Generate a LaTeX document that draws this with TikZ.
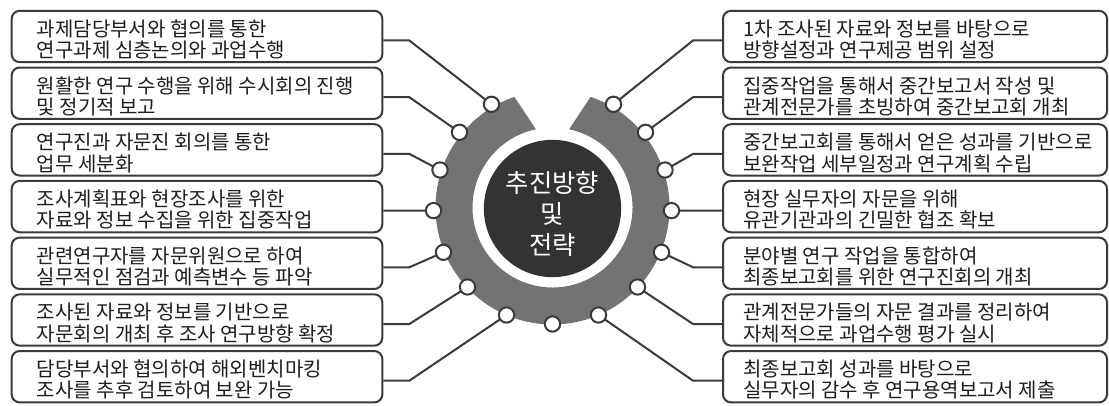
\documentclass[tikz,border=0pt]{standalone}
\usepackage{fontspec}
\setmainfont{Noto Sans CJK KR}
\usetikzlibrary{calc}
\definecolor{ringgray}{HTML}{737373}
\definecolor{darkc}{HTML}{333333}
\definecolor{linec}{HTML}{3A3A3A}
\definecolor{txt}{HTML}{1E1E1E}
\begin{document}
\begin{tikzpicture}[x=0.75pt,y=-0.75pt,
  lbox/.style={draw=linec, line width=1.5pt, rounded corners=6pt, minimum width=278pt, minimum height=38.5pt, inner sep=0pt},
  rbox/.style={lbox, minimum width=288pt},
  btext/.style={anchor=west, align=left, font=\fontsize{15}{16}\selectfont, text=txt, inner sep=0pt},
  conn/.style={draw=linec, line width=1.5pt},
  dot/.style={circle, draw=linec, line width=1.5pt, fill=white, minimum size=11.5pt, inner sep=0pt},
  ctext/.style={align=center, font=\fontsize{19}{23.5}\selectfont, text=white, inner sep=0pt}]
\useasboundingbox (0,0) rectangle (1109,406);
\clip (0,0) rectangle (1109,406);
\fill[white] (0,0) rectangle (1109,406);

% centre
\coordinate (C) at (552.5,207.5);
\fill[ringgray] ($(C)+(-71:117)$) arc[start angle=-71, end angle=251, radius=117]
  -- ($(C)+(258:80)$) arc[start angle=258, end angle=-78, radius=80] -- cycle;
\fill[white] (552.5,208.5) circle[radius=77];
\node[circle, fill=darkc, minimum size=103pt, inner sep=0pt] (core) at (552.5,208.5) {};
\node[ctext] (title) at (552.5,214) {추진방향\\및\\전략};

% boxes
\foreach \i/\a/\b in {
 1/과제담당부서와 협의를 통한/연구과제 심층논의와 과업수행,
 2/원활한 연구 수행을 위해 수시회의 진행/및 정기적 보고,
 3/연구진과 자문진 회의를 통한/업무 세분화,
 4/조사계획표와 현장조사를 위한/자료와 정보 수집을 위한 집중작업,
 5/관련연구자를 자문위원으로 하여/실무적인 점검과 예측변수 등 파악,
 6/조사된 자료와 정보를 기반으로/자문회의 개최 후 조사 연구방향 확정,
 7/담당부서와 협의하여 해외벤치마킹/조사를 추후 검토하여 보완 가능}{
  \node[lbox] (L\i) at (197, {36.5+56.7*(\i-1)}) {};
  \node[btext] (LT\i) at ($(L\i.west)+(26,3)$) {\a\\\b};
}
\foreach \i/\a/\b in {
 1/1차 조사된 자료와 정보를 바탕으로/방향설정과 연구제공 범위 설정,
 2/집중작업을 통해서 중간보고서 작성 및/관계전문가를 초빙하여 중간보고회 개최,
 3/중간보고회를 통해서 얻은 성과를 기반으로/보완작업 세부일정과 연구계획 수립,
 4/현장 실무자의 자문을 위해/유관기관과의 긴밀한 협조 확보,
 5/분야별 연구 작업을 통합하여/최종보고회를 위한 연구진회의 개최,
 6/관계전문가들의 자문 결과를 정리하여/자체적으로 과업수행 평가 실시,
 7/최종보고회 성과를 바탕으로/실무자의 감수 후 연구용역보고서 제출}{
  \node[rbox] (R\i) at (915, {36.5+56.7*(\i-1)}) {};
  \node[btext] (RT\i) at ($(R\i.west)+(21,3)$) {\a\\\b};
}

% connectors first, dots on top
\foreach \i/\x/\y in {1/491.5/104.3, 2/459.5/132.3, 3/440/170, 4/433.5/210.6, 5/443.5/252.3, 6/467.5/287, 7/506.5/315}{
  \coordinate (pL\i) at (\x,\y);
  \coordinate (pR\i) at ({1105-\x},\y);
}
\foreach \i in {1,2,3,5,6,7}{
  \draw[conn] ($(L\i.east)+(0,4)$) -- ++(26,0) -- (pL\i);
  \draw[conn] ($(R\i.west)+(0,4)$) -- ++(-29,0) -- (pR\i);
}
\draw[conn] ($(L4.east)+(0,4)$) -- (pL4);
\draw[conn] ($(R4.west)+(0,4)$) -- (pR4);
\foreach \i in {1,...,7}{
  \node[dot] (dL\i) at (pL\i) {};
  \node[dot] (dR\i) at (pR\i) {};
}
\node[dot] (dB) at (552.5,324) {};
\end{tikzpicture}
\end{document}
